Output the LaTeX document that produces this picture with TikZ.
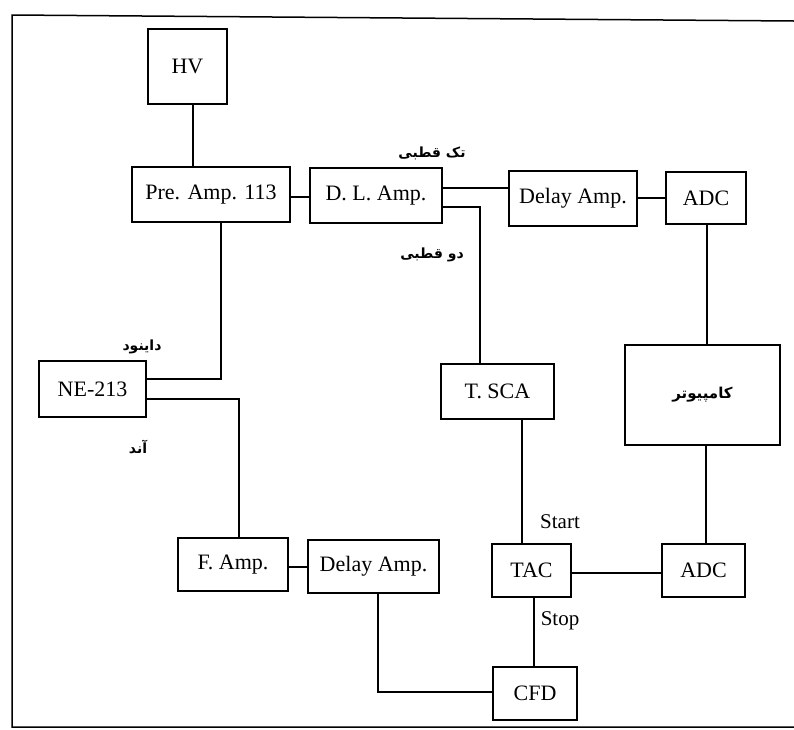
\documentclass[tikz,border=0pt]{standalone}
\usepackage{fontspec}
\setmainfont{Liberation Serif}
\newfontfamily\arabicfont[Script=Arabic]{DejaVu Sans}
\TeXXeTstate=1
\begin{document}
\begin{tikzpicture}[x=1pt,y=-1pt,
  blk/.style={draw,line width=1.6pt,rectangle,inner sep=0pt,
    font=\fontsize{22}{26}\selectfont},
  wire/.style={line width=1.2pt},
  lbl/.style={inner sep=0pt,font=\fontsize{21}{25}\selectfont},
  fa/.style={inner sep=0pt,font=\arabicfont\bfseries\fontsize{14}{18}\selectfont}]
\useasboundingbox (0,0) rectangle (794,729);
% frame
\draw[line width=1.5pt] (794,21) -- (12,15) -- (12,727) -- (794,727);
% blocks
\node[blk,minimum width=79pt,minimum height=75pt] (HV) at (187.5,66.5) {HV};
\node[blk,minimum width=158pt,minimum height=55pt] (Pre) at (211,194.5) {Pre. Amp. 113};
\node[blk,minimum width=132pt,minimum height=55pt] (DL) at (376,195.5) {D. L. Amp.};
\node[blk,minimum width=128pt,minimum height=55pt] (DT) at (573,198.5) {Delay Amp.};
\node[blk,minimum width=80pt,minimum height=52pt] (ADCt) at (706,198) {ADC};
\node[blk,minimum width=155pt,minimum height=100pt] (PC) at (702.5,395) {\arabicfont\bfseries\fontsize{15}{18}\selectfont\beginR کامپیوتر\endR};
\node[blk,minimum width=107pt,minimum height=56pt] (NE) at (92.5,389) {NE-213};
\node[blk,minimum width=113pt,minimum height=55pt] (TSCA) at (497.5,391.5) {T. SCA};
\node[blk,minimum width=110pt,minimum height=53pt] (FA) at (233,564.5) {F. Amp.};
\node[blk,minimum width=131pt,minimum height=53pt] (DB) at (373.5,566.5) {Delay Amp.};
\node[blk,minimum width=79pt,minimum height=53pt] (TAC) at (531.5,570.5) {TAC};
\node[blk,minimum width=83pt,minimum height=53pt] (ADCb) at (703.5,570.5) {ADC};
\node[blk,minimum width=84pt,minimum height=53pt] (CFD) at (535,693.5) {CFD};
% connectors
\draw[wire] (HV.south -| 193,0) -- (Pre.north -| 193,0);
\draw[wire] (Pre.east |- 0,197) -- (DL.west |- 0,197);
\draw[wire] (DL.east |- 0,188) -- (DT.west |- 0,188);
\draw[wire] (DL.east |- 0,207) -| (TSCA.north -| 480,0);
\draw[wire] (DT.east |- 0,198) -- (ADCt.west |- 0,198);
\draw[wire] (ADCt.south -| 707,0) -- (PC.north -| 707,0);
\draw[wire] (PC.south -| 706,0) -- (ADCb.north -| 706,0);
\draw[wire] (Pre.south -| 221,0) |- (NE.east |- 0,379);
\draw[wire] (NE.east |- 0,399) -| (FA.north -| 239,0);
\draw[wire] (FA.east |- 0,567) -- (DB.west |- 0,567);
\draw[wire] (DB.south -| 378,0) |- (CFD.west |- 0,692);
\draw[wire] (TSCA.south -| 522,0) -- (TAC.north -| 522,0);
\draw[wire] (TAC.east |- 0,573) -- (ADCb.west |- 0,573);
\draw[wire] (TAC.south -| 534,0) -- (CFD.north -| 534,0);
% labels
\node[lbl] (start) at (560,522) {Start};
\node[lbl] (stop) at (560,621) {Stop};
\node[fa] (tak) at (432,153) {\beginR تک قطبی\endR};
\node[fa] (do) at (432,255) {\beginR دو قطبی\endR};
\node[fa] (dyn) at (142,347) {\beginR داینود\endR};
\node[fa] (and) at (138,447) {\beginR آند\endR};
\end{tikzpicture}
\end{document}
